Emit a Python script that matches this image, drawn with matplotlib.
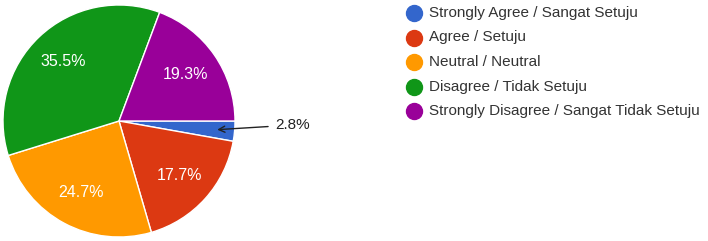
import numpy as np
import matplotlib.pyplot as plt
from matplotlib.lines import Line2D

# Dati
etichette = ['Strongly Agree / Sangat Setuju', 'Agree / Setuju', 'Neutral / Neutral',
             'Disagree / Tidak Setuju', 'Strongly Disagree / Sangat Tidak Setuju']
percentuali = [2.8, 17.7, 24.7, 35.5, 19.3]
colori = ['#3366cc', '#dc3912', '#ff9900', '#109618', '#990099']

plt.rcParams['font.family'] = ['Liberation Sans', 'DejaVu Sans']

W, H = 708, 241
fig = plt.figure(figsize=(W / 100, H / 100), dpi=100)

# Torta: centro (119, 121) px, raggio 116 px
cx, cy, r = 119, H - 121, 116
ax = fig.add_axes([(cx - r) / W, (cy - r) / H, 2 * r / W, 2 * r / H])
wedges, testi = ax.pie(percentuali, colors=colori, startangle=0, counterclock=False,
                       radius=1, wedgeprops=dict(edgecolor='white', linewidth=1))
ax.set_xlim(-1, 1)
ax.set_ylim(-1, 1)
ax.set_aspect('equal')
ax.axis('off')

# Etichette percentuali
for w, p in zip(wedges, percentuali):
    ang = np.deg2rad((w.theta1 + w.theta2) / 2)
    if p < 5:
        ax.annotate(f'{p}%', xy=(0.85 * np.cos(ang), 0.85 * np.sin(ang)),
                    xytext=(1.345, -0.035), ha='left', va='center',
                    fontsize=11, color='#222222', annotation_clip=False,
                    arrowprops=dict(arrowstyle='->', color='#222222', lw=1,
                                    shrinkA=3, shrinkB=0))
    else:
        ax.text(0.70 * np.cos(ang), 0.70 * np.sin(ang), f'{p}%', ha='center',
                va='center', fontsize=11.5, color='white')

# Legenda
for i, (lab, col) in enumerate(zip(etichette, colori)):
    y = 1 - (13 + i * 24.5) / H
    fig.add_artist(Line2D([414 / W], [y], marker='o', markersize=11.5,
                          color=col, linestyle='none'))
    fig.text(429 / W, y, lab, ha='left', va='center', fontsize=11,
             color='#333333')

fig.savefig('out.png', dpi=100)
